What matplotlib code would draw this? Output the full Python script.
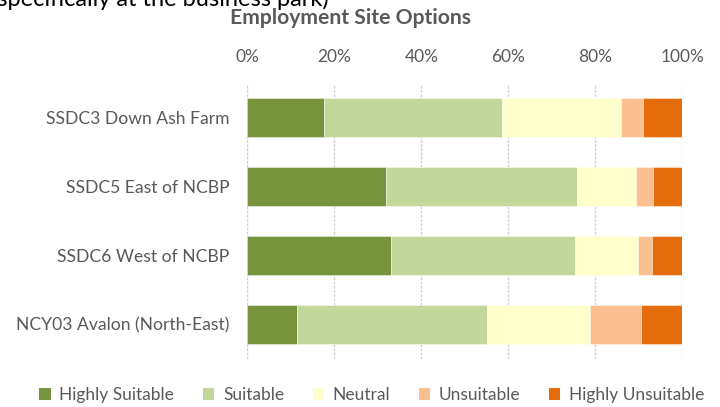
import matplotlib
matplotlib.use("Agg")
import matplotlib.pyplot as plt
from matplotlib.patches import Patch
import numpy as np

plt.rcParams['font.family'] = ['Lato', 'DejaVu Sans']

categories = ["SSDC3 Down Ash Farm", "SSDC5 East of NCBP", "SSDC6 West of NCBP", "NCY03 Avalon (North-East)"]
series_names = ["Highly Suitable", "Suitable", "Neutral", "Unsuitable", "Highly Unsuitable"]
highly_suitable = [17.6, 31.8, 33.1, 11.4]
suitable = [41.0, 44.1, 42.2, 43.8]
neutral = [27.3, 13.4, 14.6, 23.6]
unsuitable = [5.0, 4.0, 3.1, 11.8]
highly_unsuitable = [9.1, 6.7, 7.0, 9.4]
colors = ["#77933C", "#C4D79B", "#FFFFCC", "#FAC090", "#E46C0A"]
xticks = [0, 20, 40, 60, 80, 100]
xtick_labels = ["0%", "20%", "40%", "60%", "80%", "100%"]

series = [highly_suitable, suitable, neutral, unsuitable, highly_unsuitable]

fig = plt.figure(figsize=(7.2, 4.07), dpi=100)
ax = fig.add_axes([247.3/720, 1-358.5/407, 435/720, 275/407])

y = np.arange(len(categories))
left = np.zeros(len(categories))
for name, vals, c in zip(series_names, series, colors):
    ax.barh(y, vals, left=left, height=0.565, color=c, edgecolor=(1, 1, 1, 0.5),
            linewidth=0.6, label=name, zorder=3)
    left += np.array(vals)

ax.set_ylim(len(categories) - 0.5, -0.5)
ax.set_xlim(0, 100)
ax.set_xticks(xticks)
ax.set_xticklabels(xtick_labels)
ax.xaxis.tick_top()
ax.tick_params(axis='x', length=0, pad=13, labelsize=12.5, labelcolor="#595959")
ax.set_yticks(y)
ax.set_yticklabels(categories)
ax.tick_params(axis='y', length=0, pad=13, labelsize=12.6, labelcolor="#595959")
ax.grid(axis='x', color="#D0D0D0", linewidth=1.0, linestyle=(0, (2, 1)), zorder=0)
for s in ax.spines.values():
    s.set_visible(False)

fig.text(350/720, 1-18/407, "Employment Site Options", ha='center', va='center',
         fontsize=15.2, fontweight='bold', color="#595959")

fig.text(-0.012, 1-6/407, "(specifically at the business park)", ha='left', va='baseline',
         fontsize=17, color="black")

handles = [Patch(facecolor=c, edgecolor='none') for c in colors]
fig.legend(handles, series_names, loc='center', bbox_to_anchor=(372/720, 1-395/407),
           ncol=5, frameon=False, fontsize=12.5, handlelength=0.65, handleheight=0.65,
           handletextpad=0.5, columnspacing=1.65, labelcolor="#595959")

fig.savefig("out.png", dpi=100)
